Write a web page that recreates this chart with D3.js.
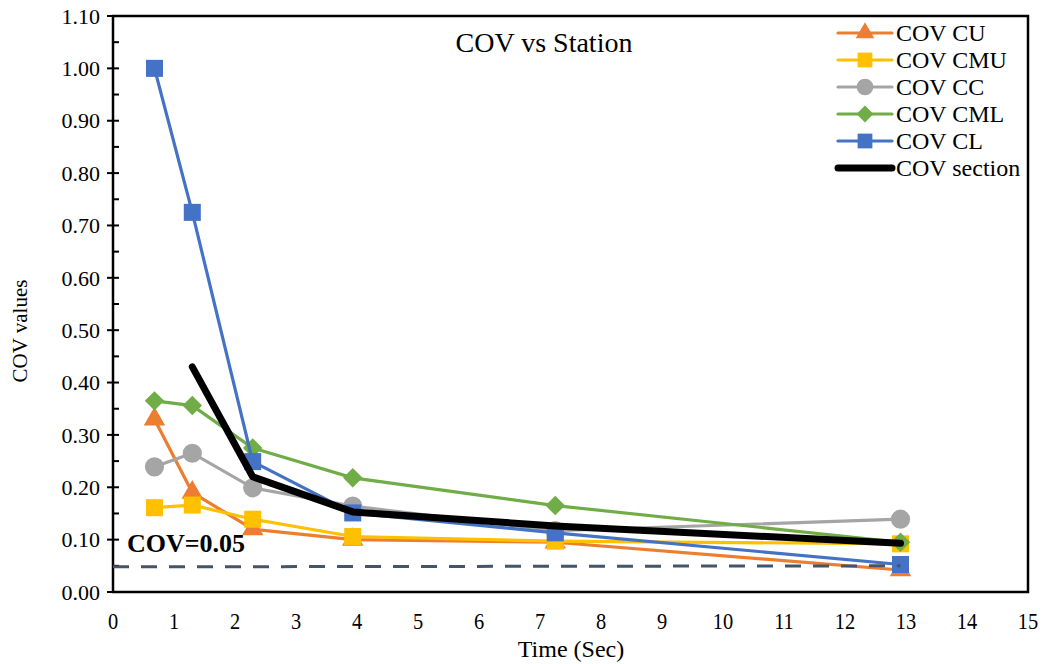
<!DOCTYPE html>
<html>
<head>
<meta charset="utf-8">
<script src="https://cdn.jsdelivr.net/npm/d3@7"></script>
<style>
  body { margin: 0; background: #fff; }
  svg text { font-family: "Liberation Serif", "Times New Roman", serif; }
</style>
</head>
<body>
<svg id="drawing_region"></svg>
<script>
// stations (time in sec)
var times = [0.68, 1.3, 2.29, 3.93, 7.25, 12.91];

var cov_cu      = [0.33, 0.19, 0.12, 0.10, 0.095, 0.042];
var cov_cmu     = [0.161, 0.166, 0.139, 0.106, 0.097, 0.092];
var cov_cc      = [0.239, 0.265, 0.199, 0.164, 0.117, 0.139];
var cov_cml     = [0.365, 0.356, 0.275, 0.218, 0.165, 0.095];
var cov_cl      = [1.00, 0.725, 0.249, 0.151, 0.113, 0.0525];
var cov_section = [null, 0.43, 0.22, 0.153, 0.126, 0.093];

var limit_x = [0, 12.91];
var limit_y = [0.048, 0.05];

var yticks = d3.range(0, 1.1001, 0.1);
var xticks = d3.range(0, 16, 1);

var series = [
    { name: 'COV CU',  values: cov_cu,  color: '#ED7D31', symbol: 'triangle' },
    { name: 'COV CMU', values: cov_cmu, color: '#FFC000', symbol: 'square' },
    { name: 'COV CC',  values: cov_cc,  color: '#A5A5A5', symbol: 'circle' },
    { name: 'COV CML', values: cov_cml, color: '#70AD47', symbol: 'diamond' },
    { name: 'COV CL',  values: cov_cl,  color: '#4472C4', symbol: 'square' }
];

var config = {
    width: 1045,
    height: 664,
    margin: {top:16, right:17, bottom:72, left:113}
};

var svg = d3.select('#drawing_region')
    .attr('width', config.width)
    .attr('height', config.height);

var inner_width = config.width - config.margin.left - config.margin.right;
var inner_height = config.height - config.margin.top - config.margin.bottom;

var chart = svg.append('g')
    .attr('transform', `translate(${config.margin.left}, ${config.margin.top})`);

var xscale = d3.scaleLinear().domain([0, 15]).range([0, inner_width]);
var yscale = d3.scaleLinear().domain([0, 1.1]).range([inner_height, 0]);

// frame
chart.append('rect')
    .attr('x', 0).attr('y', 0)
    .attr('width', inner_width).attr('height', inner_height)
    .attr('fill', 'none')
    .attr('stroke', '#000')
    .attr('stroke-width', 2.5);

// y axis: major ticks crossing, minor ticks inside
var yaxis_group = chart.append('g');
yaxis_group.selectAll('.major')
    .data(yticks)
    .join('line')
    .attr('x1', -6).attr('x2', 6)
    .attr('y1', d => yscale(d)).attr('y2', d => yscale(d))
    .attr('stroke', '#000').attr('stroke-width', 2);
yaxis_group.selectAll('.minor')
    .data(yticks.slice(0, -1).map(d => d + 0.05))
    .join('line')
    .attr('x1', 0).attr('x2', 6)
    .attr('y1', d => yscale(d)).attr('y2', d => yscale(d))
    .attr('stroke', '#000').attr('stroke-width', 2);
yaxis_group.selectAll('text')
    .data(yticks)
    .join('text')
    .attr('x', -13)
    .attr('y', d => yscale(d))
    .attr('dy', '0.35em')
    .attr('text-anchor', 'end')
    .attr('font-size', '22px')
    .text(d => d3.format('.2f')(d));

// x axis labels
chart.append('g')
    .attr('transform', `translate(0, ${inner_height})`)
    .selectAll('text')
    .data(xticks)
    .join('text')
    .attr('transform', d => `translate(${xscale(d)}, 37) scale(0.85, 1)`)
    .attr('text-anchor', 'middle')
    .attr('font-size', '24px')
    .text(d => d);

// axis titles
svg.append('text')
    .attr('x', 571)
    .attr('y', 657)
    .attr('text-anchor', 'middle')
    .attr('font-size', '24px')
    .text('Time (Sec)');

svg.append('text')
    .attr('transform', 'translate(27, 331) rotate(-90)')
    .attr('text-anchor', 'middle')
    .attr('font-size', '21px')
    .text('COV values');

svg.append('text')
    .attr('x', 544)
    .attr('y', 52)
    .attr('text-anchor', 'middle')
    .attr('font-size', '28px')
    .text('COV vs Station');

// series lines and markers
var symbols = {
    triangle: d3.symbolTriangle,
    square: d3.symbolSquare,
    circle: d3.symbolCircle,
    diamond: d3.symbolSquare
};
var symbol_size = { triangle: 200, square: 290, circle: 290, diamond: 190 };
var symbol_rot = { triangle: 0, square: 0, circle: 0, diamond: 45 };

var line = d3.line()
    .defined(d => d[1] != null)
    .x(d => xscale(d[0]))
    .y(d => yscale(d[1]));

series.forEach(s => {
    var pts = times.map((t, i) => [t, s.values[i]]);
    chart.append('path')
        .datum(pts)
        .attr('fill', 'none')
        .attr('stroke', s.color)
        .attr('stroke-width', 3.2)
        .attr('d', line);
    chart.append('g')
        .selectAll('path')
        .data(pts)
        .join('path')
        .attr('transform', d => `translate(${xscale(d[0])}, ${yscale(d[1])}) rotate(${symbol_rot[s.symbol]})`)
        .attr('fill', s.color)
        .attr('d', d3.symbol().type(symbols[s.symbol]).size(symbol_size[s.symbol]));
});

// section line
chart.append('path')
    .datum(times.map((t, i) => [t, cov_section[i]]))
    .attr('fill', 'none')
    .attr('stroke', '#000')
    .attr('stroke-width', 7)
    .attr('stroke-linecap', 'round')
    .attr('stroke-linejoin', 'round')
    .attr('d', line);

// COV = 0.05 limit
chart.append('path')
    .datum(limit_x.map((t, i) => [t, limit_y[i]]))
    .attr('fill', 'none')
    .attr('stroke', '#44546A')
    .attr('stroke-width', 3)
    .attr('stroke-dasharray', '16 12')
    .attr('d', line);

chart.append('text')
    .attr('x', 14)
    .attr('y', yscale(0.05) - 14)
    .attr('font-size', '26px')
    .attr('font-weight', 'bold')
    .text('COV=0.05');

// legend
var legend_names = series.map(s => s.name).concat(['COV section']);
var legend = svg.append('g')
    .attr('transform', 'translate(838, 33)');
legend.append('rect')
    .attr('x', -4).attr('y', -14)
    .attr('width', 188).attr('height', 162)
    .attr('fill', '#fff');
legend_names.forEach((name, i) => {
    var row = legend.append('g').attr('transform', `translate(0, ${i * 27})`);
    var s = series[i];
    row.append('line')
        .attr('x1', 0).attr('x2', 54)
        .attr('stroke', s ? s.color : '#000')
        .attr('stroke-width', s ? 3.2 : 7)
        .attr('stroke-linecap', 'round');
    if (s) {
        row.append('path')
            .attr('transform', `translate(27, 0) rotate(${symbol_rot[s.symbol]})`)
            .attr('fill', s.color)
            .attr('d', d3.symbol().type(symbols[s.symbol]).size(symbol_size[s.symbol] * 0.75));
    }
    row.append('text')
        .attr('x', 58)
        .attr('dy', '0.35em')
        .attr('font-size', '24px')
        .text(name);
});
</script>
</body>
</html>
